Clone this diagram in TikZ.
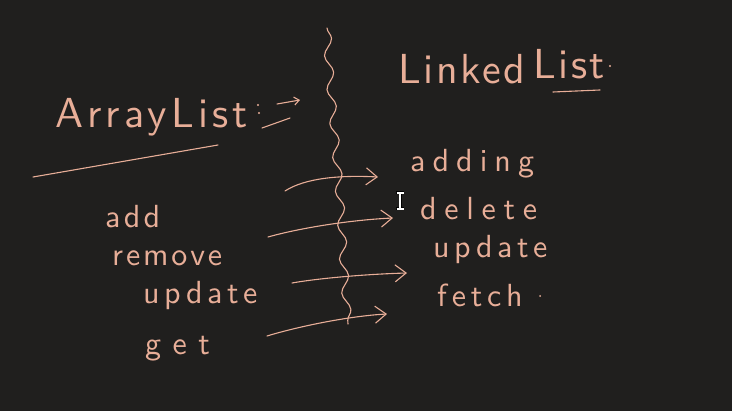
\documentclass[tikz,border=0pt]{standalone}
\usepackage{fontspec}
\usetikzlibrary{arrows.meta,decorations.pathmorphing}
\newfontfamily\hf{lmsans10-regular.otf}
\newcommand\ls[2]{{\addfontfeatures{LetterSpace=#1}#2}}
\definecolor{bg}{HTML}{201F1E}
\definecolor{ink}{HTML}{E8AE98}
\begin{document}
\begin{tikzpicture}[x=1pt,y=-1pt,
  stroke/.style={draw=ink,line width=1.1pt,line cap=round,line join=round},
  arr/.style={stroke,-{Straight Barb[length=11pt,width=17pt,line width=1.1pt]}},
  lab/.style={text=ink,inner sep=0pt,anchor=base west,font=\hf\fontsize{32}{32}\selectfont},
  ttl/.style={text=ink,inner sep=0pt,anchor=base west,font=\hf\fontsize{42}{42}\selectfont}]
\fill[bg] (0,0) rectangle (732,411);
\useasboundingbox (0,0) rectangle (732,411);

% titles
\node[ttl] (al) at (55,128) {\ls{10}{ArrayList}};
\fill[ink] (258,105) circle (1.2) (259,113) circle (1.2);
\coordinate (a1s) at (277,104);
\coordinate (a1e) at (300,100);
\coordinate (a2s) at (262,128);
\coordinate (a2e) at (290,118);
\draw[stroke,-{Straight Barb[length=5pt,width=8pt,line width=1.1pt]}] (a1s) -- (a1e);
\draw[stroke] (a2s) -- (a2e);
\coordinate (u1s) at (33,177);
\coordinate (u1e) at (218,145);
\draw[stroke] (u1s) -- (u1e);

\node[ttl] (ll) at (398,84) {\ls{6}{Linked}};
\node[ttl] (ll2) at (533,79) {\ls{6}{List}};
\coordinate (u2s) at (553,92);
\coordinate (u2e) at (600,90);
\draw[stroke] (u2s) -- (u2e);
\fill[ink] (610,66) circle (1.2);

% wavy divider
\coordinate (w0) at (327,28);
\coordinate (w1) at (330,90);
\coordinate (w2) at (340,175);
\coordinate (w3) at (343,250);
\coordinate (w4) at (348,324);
\draw[stroke,decorate,decoration={snake,segment length=34pt,amplitude=4pt}]
  (w0) .. controls (w1) and (w2) .. (w3) -- (w4);

% left labels
\node[lab] (add) at (105,228) {\ls{10}{add}};
\node[lab] (rem) at (112,266) {\ls{9}{remove}};
\node[lab] (upd) at (143,304) {\ls{14}{update}};
\node[lab] (get) at (145,355) {\ls{36}{get}};

% right labels
\node[lab] (adding) at (410,172) {\ls{22}{adding}};
\node[lab] (del) at (420,220) {\ls{24}{delete}};
\node[lab] (upd2) at (433,258) {\ls{14}{update}};
\node[lab] (fetch) at (437,307) {\ls{15}{fetch}};
\fill[ink] (540,296) circle (1);

% arrows
\coordinate (s1) at (285,191);
\coordinate (e1) at (378,177);
\coordinate (s2) at (268,237);
\coordinate (e2) at (393,218);
\coordinate (s3) at (292,283);
\coordinate (e3) at (407,273);
\coordinate (s4) at (267,336);
\coordinate (e4) at (387,314);
\draw[arr] (s1) .. controls (305,178) and (340,175) .. (e1);
\draw[arr] (s2) .. controls (300,228) and (350,220) .. (e2);
\draw[arr] (s3) .. controls (320,278) and (370,274) .. (e3);
\draw[arr] (s4) .. controls (300,326) and (350,316) .. (e4);

% text cursor
\coordinate (c0) at (400,193);
\coordinate (c1) at (400,209);
\draw[black,line width=3pt] (c0) -- (c1) (396,193) -- (404,193) (396,209) -- (404,209);
\draw[white,line width=1.2pt] (c0) -- (c1) (396.5,193) -- (403.5,193) (396.5,209) -- (403.5,209);
\end{tikzpicture}
\end{document}
